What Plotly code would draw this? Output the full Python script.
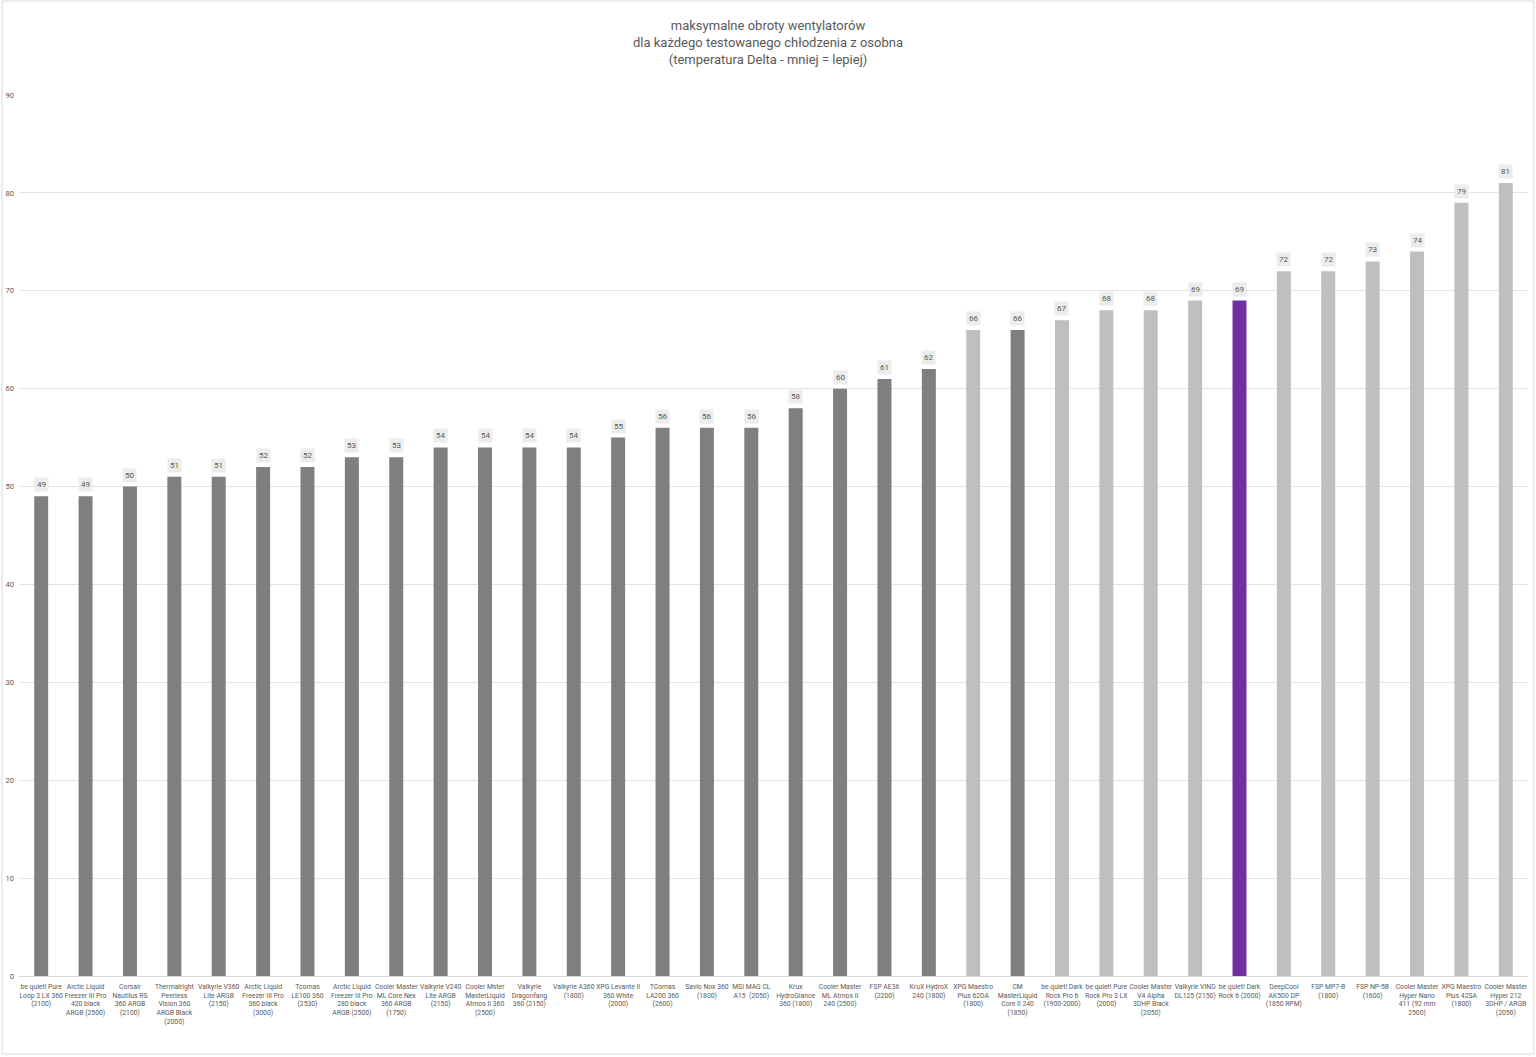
import plotly.graph_objects as go

categories = [
    "be quiet! Pure<br>Loop 3 LX 360<br>(2100)",
    "Arctic Liquid<br>Freezer III Pro<br>420 black<br>ARGB (2500)",
    "Corsair<br>Nautilus RS<br>360 ARGB<br>(2100)",
    "Thermalright<br>Peerless<br>Vision 360<br>ARGB Black<br>(2000)",
    "Valkyrie V360<br>Lite ARGB<br>(2150)",
    "Arctic Liquid<br>Freezer III Pro<br>360 black<br>(3000)",
    "Tcomas<br>LE100 360<br>(2530)",
    "Arctic Liquid<br>Freezer III Pro<br>280 black<br>ARGB (2500)",
    "Cooler Master<br>ML Core Nex<br>360 ARGB<br>(1750)",
    "Valkyrie V240<br>Lite ARGB<br>(2150)",
    "Cooler Mster<br>MasterLiquid<br>Atmos II 360<br>(2500)",
    "Valkyrie<br>Dragonfang<br>360 (2150)",
    "Valkyrie A360<br>(1800)",
    "XPG Levante II<br>360 White<br>(2000)",
    "TComas<br>LA200 360<br>(2600)",
    "Savio Nox 360<br>(1800)",
    "MSI MAG CL<br>A15  (2050)",
    "Krux<br>HydroGlance<br>360 (1800)",
    "Cooler Master<br>ML Atmos II<br>240 (2500)",
    "FSP AE36<br>(2200)",
    "KruX HydroX<br>240 (1800)",
    "XPG Maestro<br>Plus 62DA<br>(1800)",
    "CM<br>MasterLiquid<br>Core II 240<br>(1850)",
    "be quiet! Dark<br>Rock Pro 6<br>(1900-2000)",
    "be quiet! Pure<br>Rock Pro 3 LX<br>(2000)",
    "Cooler Master<br>V4 Alpha<br>3DHP Black<br>(2050)",
    "Valkyrie VIND<br>DL125 (2150)",
    "be quiet! Dark<br>Rock 6 (2000)",
    "DeepCool<br>AK500 DP<br>(1850 RPM)",
    "FSP MP7-B<br>(1800)",
    "FSP NP-5B<br>(1600)",
    "Cooler Master<br>Hyper Nano<br>411 (92 mm<br>2500)",
    "XPG Maestro<br>Plus 42SA<br>(1800)",
    "Cooler Master<br>Hyper 212<br>3DHP / ARGB<br>(2050)",
]

values = [49, 49, 50, 51, 51, 52, 52, 53, 53, 54, 54, 54, 54, 55, 56, 56, 56,
          58, 60, 61, 62, 66, 66, 67, 68, 68, 69, 69, 72, 72, 73, 74, 79, 81]

cooler_type = ["AIO"] * 21 + ["air", "AIO", "air", "air", "air", "air",
                              "tested", "air", "air", "air", "air", "air", "air"]

y_ticks = [0, 10, 20, 30, 40, 50, 60, 70, 80, 90]

color_map = {"AIO": "#7f7f7f", "air": "#bfbfbf", "tested": "#7030a0"}
colors = [color_map[t] for t in cooler_type]

font_family = "Roboto, 'Noto Sans', sans-serif"
text_color = "#595959"

fig = go.Figure()
fig.add_trace(go.Bar(
    x=categories,
    y=values,
    marker=dict(color=colors, line=dict(width=0)),
    hoverinfo="x+y",
))

for c, v in zip(categories, values):
    fig.add_annotation(
        x=c, y=v, text=str(v), showarrow=False,
        yanchor="bottom", yshift=4,
        bgcolor="#ececec", borderpad=2,
        font=dict(size=8, color=text_color, family=font_family),
    )

W, H = 1536, 1057
ml, mr, mt, mb = 19, 8, 95, 81
pw, ph = W - ml - mr, H - mt - mb

# outer chart border
fig.add_shape(
    type="rect", xref="paper", yref="paper",
    x0=(2 - ml) / pw, x1=(W - 2 - ml) / pw,
    y0=(H - mb - (H - 3)) / ph, y1=(H - mb - 1) / ph,
    line=dict(color="#d9d9d9", width=1), fillcolor="rgba(0,0,0,0)",
    layer="below",
)

fig.update_layout(
    width=W, height=H,
    margin=dict(l=ml, r=mr, t=mt, b=mb),
    paper_bgcolor="white", plot_bgcolor="white",
    bargap=0.685,
    showlegend=False,
    font=dict(family=font_family, color=text_color),
    title=dict(
        text="maksymalne obroty wentylatorów<br>dla każdego testowanego chłodzenia z osobna<br>(temperatura Delta - mniej = lepiej)",
        x=0.5, xanchor="center", y=1 - 30 / H, yanchor="top", yref="container",
        font=dict(size=13, color=text_color, family=font_family),
    ),
    xaxis=dict(
        type="category", tickangle=0, showgrid=False, showline=False,
        ticks="", ticklabelstandoff=5,
        tickfont=dict(size=6.8, color=text_color, family=font_family),
        automargin=False,
    ),
    yaxis=dict(
        range=[0, 90], tickvals=y_ticks, showgrid=True, gridcolor="#e3e3e3",
        gridwidth=1, zeroline=True, zerolinecolor="#d9d9d9", zerolinewidth=1,
        showline=False, ticks="", ticklabelstandoff=4,
        tickfont=dict(size=7.5, color=text_color, family=font_family),
        automargin=False,
    ),
)

fig.write_html("out.html")
